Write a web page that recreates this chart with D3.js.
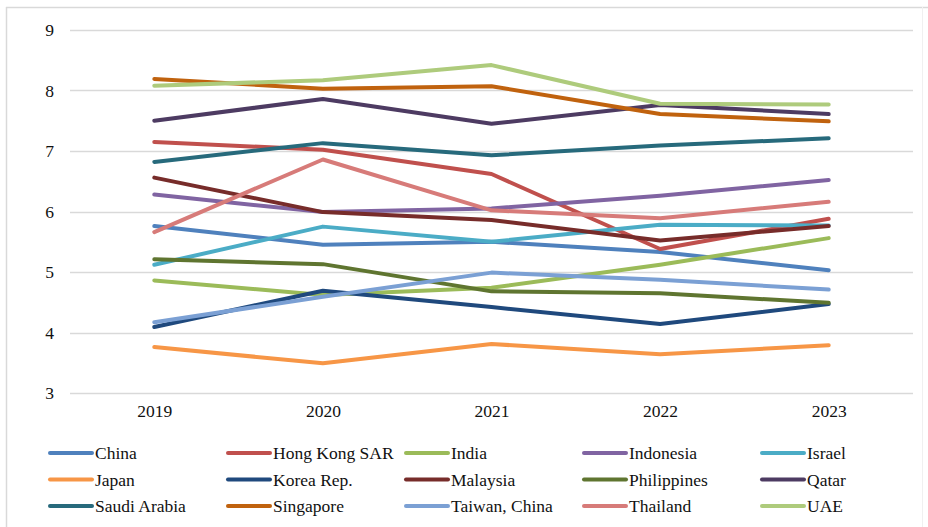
<!DOCTYPE html>
<html>
<head>
<meta charset="utf-8">
<script src="https://cdn.jsdelivr.net/npm/d3@7"></script>
<style>
  html, body { margin: 0; padding: 0; background: #fff; }
  svg { display: block; }
  svg text { font-family: "Liberation Serif", "Times New Roman", serif !important; fill: #111; }
</style>
</head>
<body>
<svg id="chart" width="928" height="527"></svg>
<script>
// Years on the x axis
const years = ["2019", "2020", "2021", "2022", "2023"];
const yTicks = [3, 4, 5, 6, 7, 8, 9];

// Economies, line colours and values per year
const names = ["China", "Hong Kong SAR", "India", "Indonesia", "Israel",
               "Japan", "Korea Rep.", "Malaysia", "Philippines", "Qatar",
               "Saudi Arabia", "Singapore", "Taiwan, China", "Thailand", "UAE"];
const colors = ["#4F81BD", "#C0504D", "#9BBB59", "#8064A2", "#4BACC6",
                "#F79646", "#1F497D", "#772C2A", "#5F7530", "#4D3B62",
                "#276A7C", "#C0620E", "#7BA0D4", "#D77B79", "#AECB7C"];

const china       = [5.76, 5.45, 5.50, 5.33, 5.03];
const hongKong    = [7.15, 7.02, 6.62, 5.38, 5.88];
const india       = [4.86, 4.62, 4.74, 5.12, 5.56];
const indonesia   = [6.28, 5.99, 6.05, 6.26, 6.52];
const israel      = [5.12, 5.75, 5.50, 5.78, 5.77];
const japan       = [3.76, 3.49, 3.81, 3.64, 3.79];
const korea       = [4.09, 4.69, 4.42, 4.14, 4.47];
const malaysia    = [6.56, 5.99, 5.86, 5.52, 5.76];
const philippines = [5.21, 5.13, 4.68, 4.65, 4.49];
const qatar       = [7.50, 7.86, 7.45, 7.76, 7.61];
const saudiArabia = [6.82, 7.13, 6.93, 7.09, 7.21];
const singapore   = [8.19, 8.03, 8.07, 7.61, 7.49];
const taiwan      = [4.17, 4.59, 4.99, 4.87, 4.71];
const thailand    = [5.66, 6.86, 6.02, 5.89, 6.16];
const uae         = [8.08, 8.17, 8.42, 7.78, 7.77];

const seriesValues = [china, hongKong, india, indonesia, israel, japan, korea,
                      malaysia, philippines, qatar, saudiArabia, singapore,
                      taiwan, thailand, uae];

const series = names.map((name, i) => ({
  name, color: colors[i],
  values: seriesValues[i].map((v, j) => ({ year: years[j], v }))
}));

const svg = d3.select("#chart");

// Chart frame
svg.append("line").attr("x1", 6).attr("x2", 928).attr("y1", 7.5).attr("y2", 7.5)
  .attr("stroke", "#d9d9d9").attr("stroke-width", 1.5);
svg.append("line").attr("x1", 6.5).attr("x2", 6.5).attr("y1", 7).attr("y2", 527)
  .attr("stroke", "#d9d9d9").attr("stroke-width", 1.5);
svg.append("line").attr("x1", 922.5).attr("x2", 922.5).attr("y1", 7).attr("y2", 527)
  .attr("stroke", "#f0f0f0").attr("stroke-width", 1);

const plotLeft = 70, plotRight = 913, plotTop = 30, plotBottom = 393;

const x = d3.scalePoint().domain(years).range([plotLeft, plotRight]).padding(0.5);
const y = d3.scaleLinear().domain([3, 9]).range([plotBottom, plotTop]);

// Horizontal gridlines
svg.append("g")
  .selectAll("line")
  .data(yTicks)
  .join("line")
  .attr("x1", plotLeft).attr("x2", plotRight)
  .attr("y1", d => Math.round(y(d)) + 0.5).attr("y2", d => Math.round(y(d)) + 0.5)
  .attr("stroke", "#d9d9d9").attr("stroke-width", 1.3);

// Y axis labels
const yAxis = d3.axisLeft(y).tickValues(yTicks).tickSize(0).tickPadding(0).tickFormat(d3.format("d"));
svg.append("g")
  .attr("transform", `translate(${plotLeft - 16},0)`)
  .call(yAxis)
  .call(g => g.select(".domain").remove())
  .call(g => g.selectAll("text").attr("font-size", 17.5));

// X axis labels
const xAxis = d3.axisBottom(x).tickSize(0).tickPadding(0);
svg.append("g")
  .attr("transform", `translate(0,${plotBottom + 12})`)
  .call(xAxis)
  .call(g => g.select(".domain").remove())
  .call(g => g.selectAll("text").attr("font-size", 17.5));

// Lines
const line = d3.line().x(d => x(d.year)).y(d => y(d.v));
svg.append("g")
  .selectAll("path")
  .data(series)
  .join("path")
  .attr("d", d => line(d.values))
  .attr("fill", "none")
  .attr("stroke", d => d.color)
  .attr("stroke-width", 4)
  .attr("stroke-linejoin", "round")
  .attr("stroke-linecap", "round");

// Legend: 5 columns x 3 rows
const legendX0 = 50, legendColW = 178, legendY0 = 453, legendRowH = 26.5;
const legend = svg.append("g")
  .selectAll("g")
  .data(series)
  .join("g")
  .attr("transform", (d, i) => `translate(${legendX0 + (i % 5) * legendColW},${legendY0 + Math.floor(i / 5) * legendRowH})`);
legend.append("line")
  .attr("x1", 0).attr("x2", 42).attr("y1", 0).attr("y2", 0)
  .attr("stroke", d => d.color).attr("stroke-width", 4).attr("stroke-linecap", "round");
legend.append("text")
  .attr("x", 45).attr("y", 0).attr("dy", "0.35em")
  .attr("font-size", 17.5)
  .text(d => d.name);
</script>
</body>
</html>
